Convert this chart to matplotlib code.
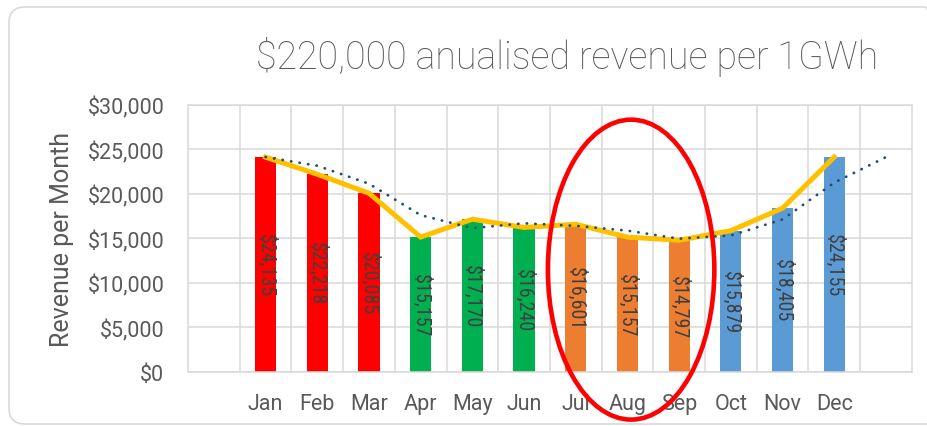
import matplotlib
matplotlib.use("Agg")
import matplotlib.pyplot as plt
from matplotlib import font_manager as fm
from matplotlib.patches import Ellipse, FancyBboxPatch
from matplotlib.ticker import FuncFormatter, MultipleLocator
from matplotlib.transforms import IdentityTransform
import numpy as np

months = ["Jan", "Feb", "Mar", "Apr", "May", "Jun",
          "Jul", "Aug", "Sep", "Oct", "Nov", "Dec"]
revenue = [24135, 22218, 20085, 15157, 17170, 16240,
           16601, 15157, 14797, 15879, 18405, 24155]
bar_colors = ["#FF0000"] * 3 + ["#00B050"] * 3 + ["#ED7D31"] * 3 + ["#5B9BD5"] * 3
title = "$220,000 anualised revenue per 1GWh"
ylabel = "Revenue per Month"

grey = "#595959"
grid = "#D9D9D9"
font = ["Roboto", "DejaVu Sans"]

# narrow font for the bar labels, if one is around
names = {f.name for f in fm.fontManager.ttflist}
lab_kw = dict(family=["DejaVu Sans"], fontsize=11.8)
for nm in ["Liberation Sans Narrow", "Roboto Condensed", "Open Sans Condensed"]:
    if nm in names:
        lab_kw = dict(family=[nm, "DejaVu Sans"], fontsize=14.4)
        break
else:
    p = fm.findfont(fm.FontProperties(family="DejaVu Sans", stretch="condensed"))
    if "Condensed" in p:
        lab_kw = dict(family=["DejaVu Sans"], fontstretch="condensed", fontsize=14)

fig = plt.figure(figsize=(9.28, 4.27), dpi=100)
ax = fig.add_axes([0.2026, 0.1265, 0.78, 0.6253])

x = np.arange(1, len(months) + 1)
ax.bar(x, revenue, width=0.41, color=bar_colors, zorder=2)
ax.plot(x, revenue, color="#FFC000", lw=3.6, solid_joinstyle="miter", zorder=3)

# 2-period moving average trendline, months wrapped round the year
wrap = np.array([revenue[-1]] + revenue + [revenue[0]], dtype=float)
ma = (wrap[:-1] + wrap[1:]) / 2
xt = np.arange(1, len(ma) + 1)
ax.plot(xt, ma, color="#1F4E79", lw=2.0,
        linestyle=(0, (0.1, 3.0)), dash_capstyle="round", zorder=4)

for xi, v in zip(x, revenue):
    ax.text(xi, v / 2, f"${v:,}", rotation=270, ha="center", va="center",
            color="#404040", zorder=5, **lab_kw)

ax.set_xlim(-0.5, 13.5)
ax.set_ylim(0, 30000)
ax.set_xticks(x)
ax.set_xticklabels(months)
ax.set_xticks(np.arange(0.5, 13, 1), minor=True)
ax.yaxis.set_major_locator(MultipleLocator(5000))
ax.yaxis.set_major_formatter(FuncFormatter(lambda v, p: f"${v:,.0f}"))
ax.grid(axis="y", color=grid, lw=1.1, zorder=0)
ax.grid(axis="x", which="minor", color=grid, lw=1.1, zorder=0)
ax.tick_params(which="both", length=0)
ax.tick_params(axis="y", pad=17, labelsize=15.5, labelcolor=grey)
ax.tick_params(axis="x", pad=15, labelsize=15.5, labelcolor=grey)
for lab in ax.get_xticklabels() + ax.get_yticklabels():
    lab.set_family(font)
for s in ax.spines.values():
    s.set_color(grid)
    s.set_linewidth(1.1)

ax.set_ylabel(ylabel, fontsize=18, color=grey, family=font, labelpad=10)
fig.text(0.611, 0.866, title, ha="center", va="center", fontsize=27,
         color=grey, family=font, fontweight="light")

# highlight Jul-Sep
ax.add_patch(Ellipse((8.07, 11500), 3.22, 33700, fill=False, edgecolor="#FF0000",
                     lw=3.3, clip_on=False, zorder=6))

# chart frame, in pixels
fig.patches.append(FancyBboxPatch((9, 2), 932, 417,
                                  boxstyle="round,pad=0,rounding_size=16",
                                  transform=IdentityTransform(), fill=False,
                                  edgecolor=grid, lw=1.2))

fig.savefig("out.png", dpi=100)
